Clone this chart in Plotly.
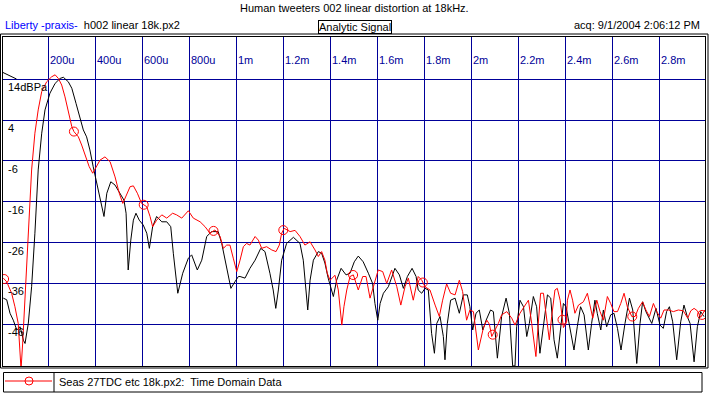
import numpy as np
import plotly.graph_objects as go

# ---------------- data (time in ms, level in dBPa) ----------------
red_t = [0.0085, 0.023, 0.044, 0.058, 0.072, 0.080, 0.084, 0.091, 0.101, 0.115, 0.129, 0.143, 0.157, 0.172,
         0.193, 0.214, 0.229, 0.243, 0.257, 0.271, 0.285, 0.300, 0.309, 0.328, 0.342, 0.360, 0.374, 0.389,
         0.403, 0.420, 0.441, 0.463, 0.484, 0.502, 0.517, 0.534, 0.548, 0.562, 0.579, 0.597, 0.619, 0.633,
         0.644, 0.661, 0.683, 0.704, 0.729, 0.746, 0.768, 0.796, 0.817, 0.846, 0.867, 0.888, 0.909, 0.931,
         0.945, 0.959, 0.973, 0.987, 1.002, 1.016, 1.030, 1.044, 1.058, 1.080, 1.094, 1.108, 1.129, 1.151,
         1.169, 1.183, 1.193, 1.204, 1.229, 1.250, 1.271, 1.292, 1.314, 1.335, 1.349, 1.363, 1.377, 1.387,
         1.399, 1.420, 1.434, 1.449, 1.458, 1.470, 1.484, 1.498, 1.519, 1.538, 1.552, 1.569, 1.590, 1.604,
         1.623, 1.640, 1.661, 1.683, 1.700, 1.718, 1.732, 1.753, 1.774, 1.789, 1.803, 1.824, 1.846, 1.864,
         1.878, 1.895, 1.912, 1.931, 1.949, 1.963, 1.980, 1.994, 2.009, 2.030, 2.051, 2.066, 2.077, 2.087,
         2.101, 2.115, 2.129, 2.151, 2.172, 2.186, 2.207, 2.229, 2.243, 2.257, 2.267, 2.275, 2.285, 2.295,
         2.307, 2.318, 2.332, 2.342, 2.356, 2.366, 2.378, 2.392, 2.403, 2.409, 2.420, 2.431, 2.441, 2.456,
         2.477, 2.494, 2.505, 2.517, 2.534, 2.548, 2.562, 2.579, 2.593, 2.607, 2.622, 2.636, 2.650, 2.664,
         2.683, 2.697, 2.711, 2.729, 2.743, 2.758, 2.775, 2.789, 2.806, 2.820, 2.839, 2.860, 2.881, 2.902,
         2.921, 2.934, 2.948, 2.962, 2.976, 2.994]
red_db = [-34.7, -35.6, -38.4, -41.7, -45.8, -54.7, -57.0, -50.6, -40.0, -25.4, -8.2, 0.8, 6.5, 11.0,
          13.4, 14.6, 15.1, 14.2, 12.6, 9.7, 6.5, 2.4, 1.2, -0.1, -2.1, -5.0, -7.4, -9.0,
          -7.4, -5.8, -5.0, -6.2, -9.9, -13.9, -16.4, -13.9, -12.3, -12.1, -13.9, -16.4, -17.2, -19.6,
          -22.1, -20.5, -19.2, -20.0, -18.8, -19.2, -20.0, -18.2, -20.0, -20.9, -22.1, -23.7, -22.9, -24.5,
          -27.4, -26.6, -26.6, -29.8, -33.1, -30.3, -27.0, -26.2, -26.6, -24.5, -25.4, -27.4, -27.0, -27.8,
          -28.2, -26.6, -23.7, -22.5, -23.3, -23.0, -24.5, -26.6, -25.8, -27.8, -29.4, -28.2, -30.3, -33.5,
          -35.2, -34.0, -37.6, -46.2, -41.7, -37.6, -34.3, -33.9, -37.6, -34.3, -34.3, -39.6, -35.2, -32.7,
          -33.1, -36.0, -32.7, -36.8, -41.3, -36.8, -34.7, -40.1, -34.3, -35.2, -36.8, -37.6, -41.3, -44.1,
          -40.1, -36.1, -38.4, -38.8, -35.2, -38.0, -45.0, -42.5, -42.9, -52.3, -47.0, -45.0, -46.0, -49.0,
          -47.4, -45.8, -43.7, -42.9, -44.5, -46.2, -43.3, -41.3, -40.1, -45.8, -49.8, -53.9, -45.8, -38.4,
          -38.4, -43.3, -49.8, -44.1, -37.6, -37.2, -40.1, -46.8, -45.8, -40.1, -37.6, -40.1, -43.3, -41.3,
          -40.5, -38.4, -41.7, -44.5, -40.1, -42.9, -45.0, -39.2, -40.9, -42.9, -42.9, -40.9, -38.4, -41.7,
          -44.1, -44.1, -42.1, -40.5, -42.5, -44.1, -40.9, -42.9, -44.5, -42.5, -42.5, -42.9, -42.5, -42.7,
          -44.5, -42.7, -42.1, -42.7, -44.3, -42.5]

black_t = [0.0085, 0.023, 0.037, 0.051, 0.066, 0.080, 0.094, 0.101, 0.115, 0.129, 0.143, 0.157, 0.172,
           0.186, 0.207, 0.229, 0.250, 0.264, 0.285, 0.300, 0.318, 0.335, 0.349, 0.363, 0.377, 0.391, 0.409,
           0.420, 0.437, 0.449, 0.466, 0.484, 0.505, 0.522, 0.531, 0.540, 0.551, 0.562, 0.573, 0.587, 0.604,
           0.619, 0.630, 0.644, 0.661, 0.683, 0.704, 0.721, 0.732, 0.751, 0.772, 0.796, 0.810, 0.834, 0.853,
           0.874, 0.895, 0.923, 0.938, 0.959, 0.977, 0.994, 1.009, 1.016, 1.037, 1.058, 1.080, 1.104, 1.122,
           1.143, 1.157, 1.168, 1.179, 1.193, 1.214, 1.243, 1.271, 1.285, 1.295, 1.304, 1.314, 1.328, 1.349,
           1.363, 1.377, 1.391, 1.413, 1.427, 1.446, 1.467, 1.484, 1.502, 1.519, 1.540, 1.562, 1.580, 1.590,
           1.602, 1.612, 1.626, 1.647, 1.661, 1.675, 1.694, 1.711, 1.728, 1.748, 1.765, 1.774, 1.789, 1.803,
           1.817, 1.831, 1.843, 1.853, 1.867, 1.881, 1.888, 1.898, 1.912, 1.931, 1.949, 1.966, 1.983, 1.994,
           2.006, 2.020, 2.034, 2.049, 2.063, 2.082, 2.094, 2.111, 2.129, 2.148, 2.162, 2.176, 2.186, 2.193,
           2.207, 2.222, 2.236, 2.247, 2.264, 2.278, 2.292, 2.307, 2.324, 2.338, 2.352, 2.366, 2.380, 2.392,
           2.403, 2.420, 2.437, 2.451, 2.465, 2.480, 2.498, 2.512, 2.526, 2.536, 2.551, 2.562, 2.576, 2.593,
           2.607, 2.622, 2.637, 2.654, 2.673, 2.687, 2.704, 2.718, 2.729, 2.743, 2.768, 2.786, 2.803, 2.817,
           2.831, 2.843, 2.857, 2.874, 2.891, 2.905, 2.919, 2.931, 2.948, 2.962, 2.976, 2.990]
black_db = [-39.6, -40.0, -43.3, -45.0, -47.4, -46.6, -49.9, -50.7, -45.7, -36.8, -23.7, -8.2, 0.8,
            6.5, 10.6, 13.0, 14.2, 14.5, 13.4, 11.8, 8.1, 4.4, 1.6, -0.1, -3.3, -7.4, -12.3,
            -15.6, -19.6, -13.9, -11.1, -11.9, -13.9, -15.6, -18.8, -32.7, -25.4, -20.5, -18.8, -20.5, -21.7,
            -23.7, -27.4, -22.1, -19.6, -20.9, -20.9, -22.1, -28.6, -38.4, -33.5, -29.8, -29.0, -32.7, -30.3,
            -24.5, -23.3, -23.3, -26.2, -31.9, -37.2, -35.6, -34.3, -34.3, -34.7, -32.3, -30.3, -27.4, -28.2,
            -33.5, -37.6, -42.1, -37.6, -30.3, -26.2, -24.7, -26.2, -30.3, -36.8, -42.5, -35.2, -30.3, -28.2,
            -28.6, -31.0, -34.7, -39.2, -35.2, -32.3, -33.9, -33.5, -30.7, -29.3, -30.7, -33.5, -36.0, -40.9,
            -45.0, -40.9, -38.4, -36.8, -34.3, -32.3, -33.9, -37.2, -34.3, -32.3, -34.3, -37.6, -38.4, -37.2,
            -37.6, -48.2, -53.1, -45.8, -44.1, -49.0, -54.7, -45.8, -40.1, -39.6, -43.3, -38.8, -38.8, -41.7,
            -47.4, -43.3, -42.5, -47.4, -45.0, -42.5, -42.9, -54.3, -44.1, -39.6, -43.3, -56.2, -56.2, -46.6,
            -40.1, -41.7, -49.0, -45.8, -39.2, -41.7, -53.1, -45.8, -38.8, -39.6, -49.8, -54.3, -46.6, -40.9,
            -41.7, -46.6, -52.3, -46.6, -41.7, -43.7, -52.3, -45.8, -40.1, -43.3, -47.4, -42.5, -46.6, -43.7,
            -43.3, -47.0, -52.3, -45.8, -39.6, -42.5, -55.6, -45.8, -40.5, -42.9, -45.8, -42.1, -46.2, -47.0,
            -42.9, -41.7, -45.4, -54.7, -45.4, -41.3, -44.1, -45.8, -55.2, -46.6, -42.9, -44.1]

marker_t = [0.012, 0.309, 0.606, 0.903, 1.200, 1.497, 1.794, 2.091, 2.388, 2.685, 2.982]

x_tick_vals = [0.2, 0.4, 0.6, 0.8, 1.0, 1.2, 1.4, 1.6, 1.8, 2.0, 2.2, 2.4, 2.6, 2.8]
x_tick_text = ["200u", "400u", "600u", "800u", "1m", "1.2m", "1.4m", "1.6m", "1.8m", "2m",
               "2.2m", "2.4m", "2.6m", "2.8m"]
y_tick_vals = [14, 4, -6, -16, -26, -36, -46]
y_tick_text = ["14dBPa", "4", "-6", "-16", "-26", "-36", "-46"]

title_text = "Human tweeters 002 linear distortion at 18kHz."
left_blue = "Liberty -praxis-"
left_black = "h002 linear 18k.px2"
center_box = "Analytic Signal"
right_text = "acq: 9/1/2004 2:06:12 PM"
legend_text = "Seas 27TDC etc 18k.px2:  Time Domain Data"

# ---------------- figure ----------------
W, H = 709, 395
L, R, T, B = 3, 705, 37, 366          # plot area in pixels
NAVY = "#000099"
FONT = "Liberation Sans, Arial, sans-serif"


def px(x):
    return (x - L) / (R - L)


def py(y):
    return (B - y) / (B - T)


fig = go.Figure()
fig.add_trace(go.Scatter(x=black_t, y=black_db, mode="lines",
                         line=dict(color="black", width=1), hoverinfo="skip"))
fig.add_trace(go.Scatter(x=red_t, y=red_db, mode="lines",
                         line=dict(color="#ff0000", width=1), hoverinfo="skip"))
marker_db = np.interp(marker_t, red_t, red_db)
fig.add_trace(go.Scatter(x=marker_t, y=marker_db, mode="markers",
                         marker=dict(symbol="circle-open", size=9, color="#ff0000",
                                     line=dict(width=1, color="#ff0000")),
                         hoverinfo="skip"))

ann = []
for v, t in zip(x_tick_vals, x_tick_text):
    ann.append(dict(x=v, y=py(60), xref="x", yref="paper", text=t, showarrow=False,
                    xanchor="left", yanchor="middle", xshift=0,
                    font=dict(family=FONT, size=11, color=NAVY)))
for v, t in zip(y_tick_vals, y_tick_text):
    ann.append(dict(x=px(6), y=v, xref="paper", yref="y", text=t, showarrow=False,
                    xanchor="left", yanchor="middle", yshift=-8,
                    font=dict(family=FONT, size=11, color="black")))

ann.append(dict(x=px(354), y=py(8), xref="paper", yref="paper", text=title_text,
                showarrow=False, xanchor="center", yanchor="middle",
                font=dict(family=FONT, size=11, color="black")))
ann.append(dict(x=px(3), y=py(25), xref="paper", yref="paper",
                text=f"<span style='color:#0000ff'>{left_blue}</span>  {left_black}",
                showarrow=False, xanchor="left", yanchor="middle",
                font=dict(family=FONT, size=11, color="black")))
ann.append(dict(x=px(354.5), y=py(26.5), xref="paper", yref="paper", text=center_box,
                showarrow=False, xanchor="center", yanchor="middle",
                bordercolor="black", borderwidth=1, borderpad=0,
                font=dict(family=FONT, size=11, color="black")))
ann.append(dict(x=px(702), y=py(25), xref="paper", yref="paper", text=right_text,
                showarrow=False, xanchor="right", yanchor="middle",
                font=dict(family=FONT, size=11, color="black")))
ann.append(dict(x=px(57), y=py(381.5), xref="paper", yref="paper", text=legend_text,
                showarrow=False, xanchor="left", yanchor="middle",
                font=dict(family=FONT, size=11, color="black")))

shapes = [
    # outer frame
    dict(type="rect", xref="paper", yref="paper", x0=px(0.5), x1=px(708), y0=py(34), y1=py(368),
         line=dict(color="black", width=1)),
    # legend box
    dict(type="rect", xref="paper", yref="paper", x0=px(3.5), x1=px(702), y0=py(372.5), y1=py(392),
         line=dict(color="black", width=1)),
    dict(type="line", xref="paper", yref="paper", x0=px(54), x1=px(54), y0=py(372.5), y1=py(392),
         line=dict(color="black", width=1)),
    dict(type="line", xref="paper", yref="paper", x0=px(5), x1=px(52), y0=py(381), y1=py(381),
         line=dict(color="#ff0000", width=1)),
    dict(type="circle", xref="paper", yref="paper", x0=px(25), x1=px(33), y0=py(377), y1=py(385),
         line=dict(color="#ff0000", width=1)),
    # reference-level triangle mark
    dict(type="line", xref="paper", yref="paper", x0=px(3), x1=px(16.5), y0=py(72.5), y1=py(79),
         line=dict(color="black", width=1)),
]

fig.update_layout(
    width=W, height=H,
    margin=dict(l=L, r=W - R, t=T, b=H - B, pad=0),
    paper_bgcolor="white", plot_bgcolor="white",
    showlegend=False,
    annotations=ann, shapes=shapes,
    xaxis=dict(range=[(L - 1.3) / 235, (R - 1.3) / 235], tickvals=x_tick_vals,
               showticklabels=False, ticks="", showgrid=True, gridcolor=NAVY, gridwidth=1,
               zeroline=False, showline=True, linecolor="black", linewidth=1, mirror=True,
               fixedrange=True),
    yaxis=dict(range=[14 - (B - 79.3) / 4.083, 14 + (79.3 - T) / 4.083], tickvals=y_tick_vals,
               showticklabels=False, ticks="", showgrid=True, gridcolor=NAVY, gridwidth=1,
               zeroline=False, showline=True, linecolor="black", linewidth=1, mirror=True,
               fixedrange=True),
)

fig.write_html("out.html", config={"displayModeBar": False},
               post_script="document.body.style.margin='0';document.body.style.overflow='hidden';")
